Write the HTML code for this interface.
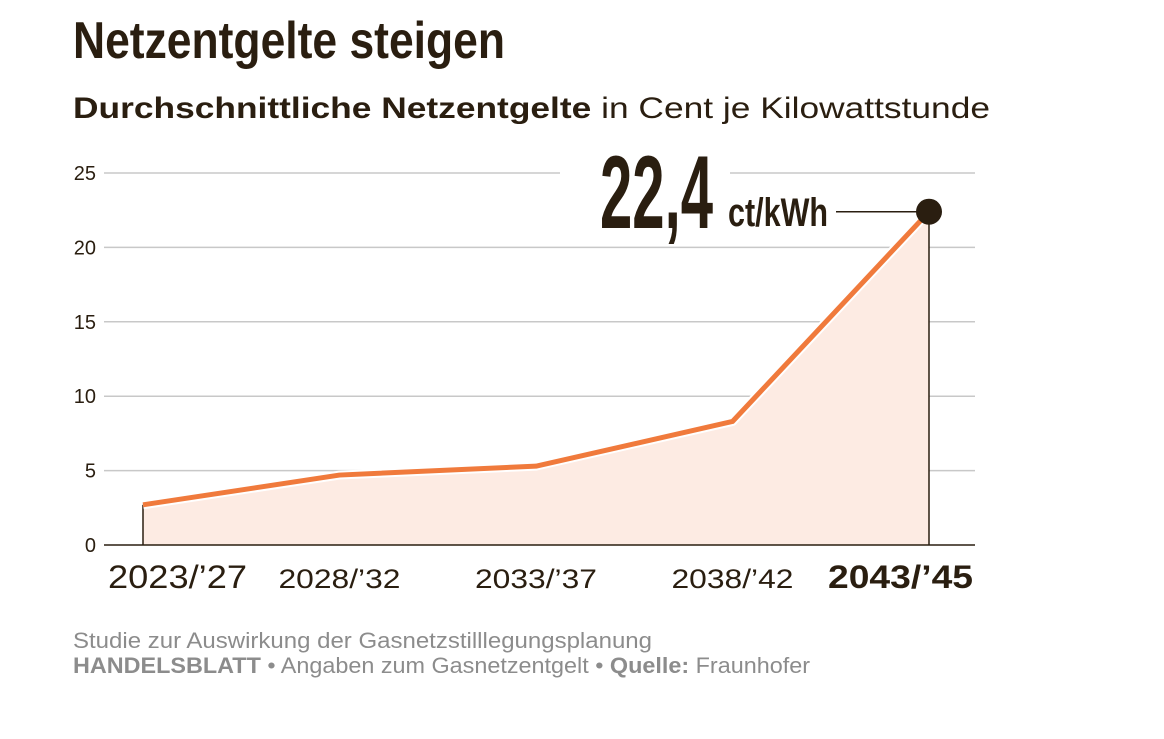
<!DOCTYPE html>
<html><head><meta charset="utf-8"><style>
html,body{margin:0;padding:0;background:#fff}
svg{display:block;font-family:"Liberation Sans",sans-serif}
</style></head><body>
<svg width="1164" height="739" viewBox="0 0 1164 739">
<text x="73" y="58" font-size="52" font-weight="bold" fill="#2a1e10" textLength="432" lengthAdjust="spacingAndGlyphs">Netzentgelte steigen</text>
<text x="73" y="118" font-size="30" fill="#2a1e10" textLength="917" lengthAdjust="spacingAndGlyphs"><tspan font-weight="bold">Durchschnittliche Netzentgelte</tspan> in Cent je Kilowattstunde</text>
<g id="grid"></g>
<g id="plot"></g>
<g id="xlabels"></g>
<text x="73" y="648" font-size="22" fill="#8c8c8c" textLength="579" lengthAdjust="spacingAndGlyphs">Studie zur Auswirkung der Gasnetzstilllegungsplanung</text>
<text x="73" y="673" font-size="22" fill="#8c8c8c" textLength="737" lengthAdjust="spacingAndGlyphs"><tspan font-weight="bold">HANDELSBLATT</tspan> • Angaben zum Gasnetzentgelt • <tspan font-weight="bold">Quelle:</tspan> Fraunhofer</text>
</svg>
<script>
const categories=["2023/\u201927","2028/\u201932","2033/\u201937","2038/\u201942","2043/\u201945"];
const values=[2.7,4.7,5.3,8.3,22.4];
const yTicks=[0,5,10,15,20,25];
const NS="http://www.w3.org/2000/svg";
const x0=143,x1=929,yBase=545,yTop=173,yMax=25;
function xs(i){return x0+(x1-x0)*i/(categories.length-1);}
function ys(v){return yBase-(yBase-yTop)*v/yMax;}
function mk(tag,attrs,parent){const e=document.createElementNS(NS,tag);for(const k in attrs)e.setAttribute(k,attrs[k]);parent.appendChild(e);return e;}
const grid=document.getElementById('grid'),plot=document.getElementById('plot'),xl=document.getElementById('xlabels');
yTicks.forEach(t=>{
  const y=ys(t);
  if(t>0){const l=mk('line',{x1:104,x2:975,y1:y,y2:y,stroke:'#c8c8c8','stroke-width':1.5},grid);
  
  }
  const tx=mk('text',{x:96,y:y+7,'font-size':20,fill:'#2a1e10','text-anchor':'end'},grid);
  tx.textContent=t;
  
  
});
let d='M'+xs(0)+','+ys(0);
values.forEach((v,i)=>{d+=' L'+xs(i)+','+ys(v);});
d+=' L'+xs(values.length-1)+','+ys(0)+' Z';
const area=mk('path',{d:d,fill:'#fdebe3'},plot);


const mask=mk('rect',{x:560,y:150,width:170,height:85,fill:'#fff'},plot);


const ax=mk('line',{x1:104,x2:975,y1:yBase,y2:yBase,stroke:'#2a1e10','stroke-width':1.5},plot);


const v0=mk('line',{x1:xs(0),x2:xs(0),y1:ys(values[0]),y2:yBase,stroke:'#2a1e10','stroke-width':1.5},plot);


const last=values.length-1;
const vl=mk('line',{x1:xs(last),x2:xs(last),y1:ys(values[last]),y2:yBase,stroke:'#2a1e10','stroke-width':1.5},plot);


let pts=values.map((v,i)=>xs(i)+','+ys(v)).join(' ');
const halo=mk('polyline',{points:pts,fill:'none',stroke:'#fff','stroke-width':9,'stroke-linejoin':'round'},plot);


const line=mk('polyline',{points:pts,fill:'none',stroke:'#f07a3c','stroke-width':5,'stroke-linejoin':'round'},plot);


const lead=mk('line',{x1:836,x2:xs(last),y1:ys(values[last]),y2:ys(values[last]),stroke:'#2a1e10','stroke-width':1.5},plot);


const dot=mk('circle',{cx:xs(last),cy:ys(values[last]),r:13,fill:'#2a1e10'},plot);


const big=mk('text',{x:600,y:228,'font-size':104,'font-weight':'bold',fill:'#2a1e10',textLength:113,lengthAdjust:'spacingAndGlyphs'},plot);
big.textContent=String(values[last]).replace('.',',');


const unit=mk('text',{x:728,y:226,'font-size':40,'font-weight':'bold',fill:'#2a1e10',textLength:100,lengthAdjust:'spacingAndGlyphs'},plot);
unit.textContent='ct/kWh';


categories.forEach((c,i)=>{
  const edge=(i===0||i===last);
  const w=i===0?139:i===last?145:122;
  const left=i===0?108:i===last?828:xs(i)-61;
  const t=mk('text',{x:left,y:588,'font-size':edge?32:27,'font-weight':i===last?'bold':'normal',fill:'#2a1e10',textLength:w,lengthAdjust:'spacingAndGlyphs'},xl);
  t.textContent=c;
  
  
});
</script>
</body></html>
